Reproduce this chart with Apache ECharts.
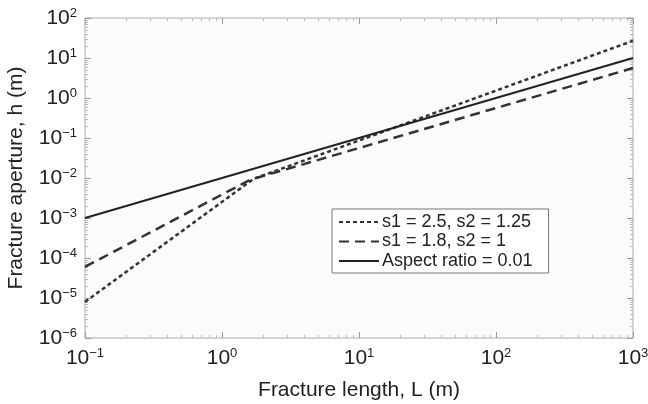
<!DOCTYPE html>
<html>
<head>
<meta charset="utf-8">
<script src="https://cdn.jsdelivr.net/npm/echarts@6/dist/echarts.min.js"></script>
<style>
  html, body { margin: 0; padding: 0; background: #fff; }
  #chart { width: 648px; height: 404px; }
</style>
</head>
<body>
<div id="chart"></div>
<script>
// 数据
var seriesNames = ['s1 = 2.5, s2 = 1.25', 's1 = 1.8, s2 = 1', 'Aspect ratio = 0.01'];
// s1 = 2.5, s2 = 1.25 (虚点线)
var dottedL = [0.1, 1.7, 1000];
var dottedH = [8e-6, 0.0095, 27];
// s1 = 1.8, s2 = 1 (虚线)
var dashedL = [0.1, 1.6, 1000];
var dashedH = [6e-5, 0.009, 5.6];
// 纵横比 0.01 (实线)
var solidL = [0.1, 1000];
var solidH = [0.001, 10];

// 坐标轴范围与刻度（十进制数量级）
var xMin = 0.1, xMax = 1000;
var yMin = 1e-6, yMax = 100;
var xDecades = [0.1, 1, 10, 100, 1000];
var yDecades = [1e-6, 1e-5, 1e-4, 1e-3, 1e-2, 0.1, 1, 10, 100];
var minorSteps = [2, 3, 4, 5, 6, 7, 8, 9];

var font = 'Liberation Sans, Arial, sans-serif';

function pairs(xs, ys) {
    return xs.map(function (x, i) { return [x, ys[i]]; });
}

// 刻度值：主刻度 + 2..9 次刻度
function tickList(decades) {
    var out = [];
    decades.forEach(function (d, i) {
        out.push({ v: d, major: 1 });
        if (i < decades.length - 1) {
            minorSteps.forEach(function (m) { out.push({ v: d * m, major: 0 }); });
        }
    });
    return out;
}
var xTickData = tickList(xDecades).map(function (t) { return [t.v, yMin, t.major]; });
var yTickData = tickList(yDecades).map(function (t) { return [xMin, t.v, t.major]; });

function powLabel(v) {
    var e = Math.round(Math.log10(v));
    var s = e < 0 ? '\u2212' + (-e) : '' + e;
    return '{b|10}{sup|' + s + '}';
}

var labelRich = {
    b: { fontSize: 21, fontFamily: font, color: '#222' },
    sup: { fontSize: 13, fontFamily: font, color: '#222', verticalAlign: 'top', padding: [0, 0, 10, 0] }
};

function tickLine(x1, y1, x2, y2, major) {
    return {
        type: 'line',
        shape: { x1: x1, y1: y1, x2: x2, y2: y2 },
        style: { stroke: major ? '#999' : '#bbb', lineWidth: 1 }
    };
}

function renderXTick(params, api) {
    var v = api.value(0), major = api.value(2);
    var b = api.coord([v, yMin]), t = api.coord([v, yMax]);
    var x = Math.round(b[0]) + 0.5, len = major ? 6 : 3;
    return { type: 'group', children: [
        tickLine(x, b[1], x, b[1] - len, major),
        tickLine(x, t[1], x, t[1] + len, major)
    ] };
}

function renderYTick(params, api) {
    var v = api.value(1), major = api.value(2);
    var l = api.coord([xMin, v]), r = api.coord([xMax, v]);
    var y = Math.round(l[1]) + 0.5, len = major ? 6 : 3;
    return { type: 'group', children: [
        tickLine(l[0], y, l[0] + len, y, major),
        tickLine(r[0], y, r[0] - len, y, major)
    ] };
}

var chart = echarts.init(document.getElementById('chart'));

var option = {
    backgroundColor: '#fff',
    animation: false,
    grid: {
        left: 85, right: 15, top: 18, bottom: 66,
        outerBoundsMode: 'none', containLabel: false,
        show: true, backgroundColor: '#fbfbfb', borderColor: '#aaa', borderWidth: 1
    },
    legend: {
        data: seriesNames,
        orient: 'vertical',
        left: 332, top: 209,
        itemWidth: 40, itemHeight: 14, itemGap: 1.5,
        borderColor: '#777', borderWidth: 1,
        padding: [4, 16, 3, 6],
        backgroundColor: '#fff',
        itemStyle: { opacity: 0 },
        textStyle: { fontSize: 18, lineHeight: 16, fontFamily: font, color: '#222', padding: [0, 0, 0, -2] }
    },
    xAxis: {
        type: 'log', min: xMin, max: xMax, logBase: 10,
        name: 'Fracture length, L (m)', nameLocation: 'middle', nameGap: 42,
        nameTextStyle: { fontSize: 21, fontFamily: font, color: '#222' },
        axisLine: { show: false }, axisTick: { show: false },
        splitLine: { show: false },
        axisLabel: { margin: 9, formatter: powLabel, rich: labelRich }
    },
    yAxis: {
        type: 'log', min: yMin, max: yMax, logBase: 10,
        name: 'Fracture aperture, h (m)', nameLocation: 'middle', nameGap: 58,
        nameTextStyle: { fontSize: 21, fontFamily: font, color: '#222' },
        axisLine: { show: false }, axisTick: { show: false },
        splitLine: { show: false },
        axisLabel: { margin: 8, formatter: powLabel, rich: labelRich }
    },
    series: [{
        name: seriesNames[0], type: 'line', symbol: 'none',
        data: pairs(dottedL, dottedH),
        lineStyle: { color: '#333', width: 2.5, type: [4, 3] },
        itemStyle: { color: '#333' }
    }, {
        name: seriesNames[1], type: 'line', symbol: 'none',
        data: pairs(dashedL, dashedH),
        lineStyle: { color: '#333', width: 2.5, type: [10, 6] },
        itemStyle: { color: '#333' }
    }, {
        name: seriesNames[2], type: 'line', symbol: 'none',
        data: pairs(solidL, solidH),
        lineStyle: { color: '#222', width: 2, type: 'solid' },
        itemStyle: { color: '#222' }
    }, {
        name: 'xticks', type: 'custom', silent: true, clip: false, z: 1,
        renderItem: renderXTick, data: xTickData
    }, {
        name: 'yticks', type: 'custom', silent: true, clip: false, z: 1,
        renderItem: renderYTick, data: yTickData
    }]
};

chart.setOption(option);
</script>
</body>
</html>
